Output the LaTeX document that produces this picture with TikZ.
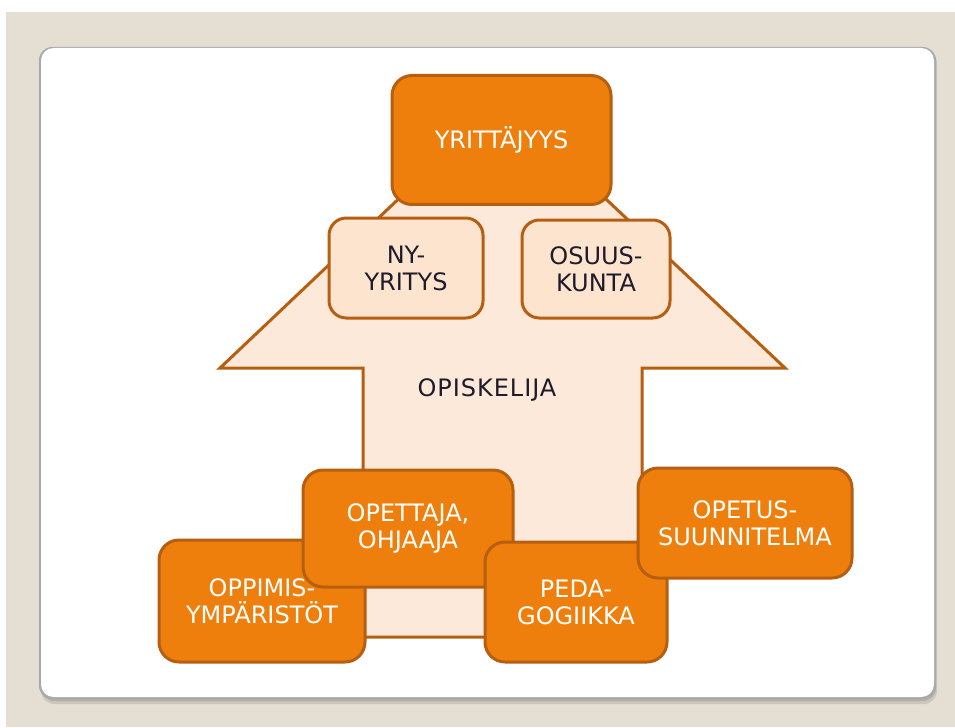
\documentclass[tikz,border=0pt]{standalone}
\usepackage{fontspec}
\setmainfont{DejaVu Sans}
\begin{document}
\definecolor{pagebg}{HTML}{E4DED3}
\definecolor{cardline}{HTML}{A9A9A9}
\definecolor{boxorange}{HTML}{EF7F0C}
\definecolor{boxline}{HTML}{B65F10}
\definecolor{arrowfill}{HTML}{FDE9D9}
\definecolor{softfill}{HTML}{FCE4CF}
\definecolor{darktext}{HTML}{1E1B2A}
\begin{tikzpicture}[x=0.75pt,y=-0.75pt,
  label font/.style={font=\fontsize{18}{20.25}\selectfont},
  mainbox/.style={draw=boxline, line width=2.25pt, fill=boxorange, rounded corners=15pt,
    text=white, align=center, label font, inner sep=0pt},
  softbox/.style={draw=boxline, line width=2.25pt, fill=softfill, rounded corners=13pt,
    text=darktext, align=center, label font, inner sep=0pt},
  bigarrow/.style={draw=boxline, line width=2.25pt, fill=arrowfill, line join=miter}]
  % page and card
  \useasboundingbox (0,0) rectangle (955,727);
  \fill[white] (0,0) rectangle (955,727);
  \fill[pagebg] (6,12) rectangle (955,727);
  \fill[black, opacity=0.10, rounded corners=10pt] (41,50) rectangle (937,704);
  \fill[black, opacity=0.12, rounded corners=10pt] (41,49) rectangle (936,701);
  \fill[cardline, rounded corners=10pt] (39,47) rectangle (936,699);
  \fill[white, rounded corners=9.5pt] (41,48) rectangle (934,697);
  % student arrow
  \draw[bigarrow] (502,101) -- (785,368) -- (642,368) -- (642,637)
    -- (363,637) -- (363,368) -- (220,368) -- cycle;
  % top boxes
  \node[mainbox, minimum width=219*0.75pt, minimum height=129*0.75pt] (yrit) at (501.5,140) {YRITTÄJYYS};
  \node[softbox, minimum width=154*0.75pt, minimum height=100*0.75pt] (nyyr) at (406,268) {NY-\\YRITYS};
  \node[softbox, minimum width=148*0.75pt, minimum height=98*0.75pt] (osuus) at (596,269) {OSUUS-\\KUNTA};
  \node[label font, text=darktext] (opisk) at (487,390) {\addfontfeature{LetterSpace=4}OPISKELIJA};
  % bottom boxes
  \node[mainbox, minimum width=206*0.75pt, minimum height=122*0.75pt] (oppim) at (262,601) {OPPIMIS-\\YMPÄRISTÖT};
  \node[mainbox, minimum width=210*0.75pt, minimum height=117*0.75pt] (opett) at (408,528.5) {OPETTAJA,\\OHJAAJA};
  \node[mainbox, minimum width=182*0.75pt, minimum height=120*0.75pt] (pedag) at (576,602) {PEDA-\\GOGIIKKA};
  \node[mainbox, minimum width=214*0.75pt, minimum height=110*0.75pt] (opsuu) at (745,523) {OPETUS-\\SUUNNITELMA};
\end{tikzpicture}
\end{document}
